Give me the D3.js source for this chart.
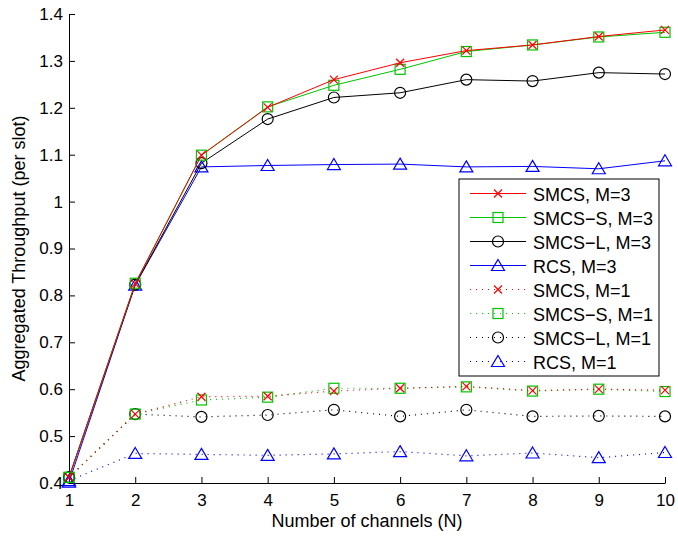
<!DOCTYPE html>
<html>
<head>
<meta charset="utf-8">
<script src="https://cdn.jsdelivr.net/npm/d3@7"></script>
<style>
  body { margin: 0; background: #fff; }
  text { font-family: "Liberation Sans", Arial, sans-serif; fill: #000; }
</style>
</head>
<body>
<svg id="chart"></svg>
<script>
const WIDTH = 678;
const HEIGHT = 538;
const MARGIN = {top: 14, right: 13, bottom: 55, left: 69};
const TICK_FONT = 17;
const LABEL_FONT = 18;

// channels on x axis
const channels = [1, 2, 3, 4, 5, 6, 7, 8, 9, 10];
const xTicks = [1, 2, 3, 4, 5, 6, 7, 8, 9, 10];
const yTicks = [0.4, 0.5, 0.6, 0.7, 0.8, 0.9, 1.0, 1.1, 1.2, 1.3, 1.4];

// M=3 series
const smcsM3  = [0.412, 0.825, 1.099, 1.201, 1.260, 1.296, 1.322, 1.334, 1.352, 1.366];
const smcsSM3 = [0.412, 0.826, 1.099, 1.202, 1.248, 1.282, 1.320, 1.334, 1.351, 1.361];
const smcsLM3 = [0.412, 0.823, 1.082, 1.176, 1.222, 1.232, 1.260, 1.257, 1.275, 1.272];
const rcsM3   = [0.402, 0.822, 1.074, 1.077, 1.079, 1.080, 1.074, 1.075, 1.070, 1.087];

// M=1 series
const smcsM1  = [0.412, 0.547, 0.584, 0.585, 0.596, 0.602, 0.606, 0.597, 0.600, 0.598];
const smcsSM1 = [0.412, 0.547, 0.577, 0.583, 0.602, 0.602, 0.605, 0.596, 0.600, 0.595];
const smcsLM1 = [0.412, 0.547, 0.541, 0.545, 0.556, 0.542, 0.556, 0.542, 0.543, 0.542];
const rcsM1   = [0.405, 0.463, 0.461, 0.459, 0.462, 0.467, 0.458, 0.464, 0.454, 0.465];

const RED = '#ff0000';
const GREEN = '#00c400';
const BLACK = '#000000';
const BLUE = '#0000ff';

const series = [
    {name: 'SMCS, M=3',   values: smcsM3,  color: RED,   marker: 'x',        dotted: false},
    {name: 'SMCS\u2212S, M=3', values: smcsSM3, color: GREEN, marker: 'square',   dotted: false},
    {name: 'SMCS\u2212L, M=3', values: smcsLM3, color: BLACK, marker: 'circle',   dotted: false},
    {name: 'RCS, M=3',    values: rcsM3,   color: BLUE,  marker: 'triangle', dotted: false},
    {name: 'SMCS, M=1',   values: smcsM1,  color: RED,   marker: 'x',        dotted: true},
    {name: 'SMCS\u2212S, M=1', values: smcsSM1, color: GREEN, marker: 'square',   dotted: true},
    {name: 'SMCS\u2212L, M=1', values: smcsLM1, color: BLACK, marker: 'circle',   dotted: true},
    {name: 'RCS, M=1',    values: rcsM1,   color: BLUE,  marker: 'triangle', dotted: true}
];

const innerW = WIDTH - MARGIN.left - MARGIN.right;
const innerH = HEIGHT - MARGIN.top - MARGIN.bottom;

const root = d3.select('#chart')
    .attr('width', WIDTH)
    .attr('height', HEIGHT);

const svg = root.append('g')
    .attr('transform', 'translate(' + MARGIN.left + ',' + MARGIN.top + ')');

const x = d3.scaleLinear().domain([1, 10]).range([0, innerW]);
const y = d3.scaleLinear().domain([0.4, 1.4]).range([innerH, 0]);

/* axes: ticks point inward like matlab */
const xAxis = svg.append('g')
    .attr('transform', 'translate(0,' + innerH + ')')
    .call(d3.axisBottom(x).tickValues(xTicks).tickSizeInner(-6).tickSizeOuter(0).tickPadding(11).tickFormat(d3.format('d')));

const yAxis = svg.append('g')
    .call(d3.axisLeft(y).tickValues(yTicks).tickSizeInner(-6).tickSizeOuter(0).tickPadding(6)
        .tickFormat(d => d === 1 ? '1' : d3.format('.1f')(d)));

[xAxis, yAxis].forEach(ax => {
    ax.select('.domain').attr('stroke', '#000').attr('stroke-width', 1);
    ax.selectAll('.tick line').attr('stroke', '#000');
    ax.selectAll('.tick text')
        .style('font-family', '"Liberation Sans", Arial, sans-serif')
        .style('font-size', TICK_FONT + 'px')
        .attr('fill', '#000');
});

/* axis titles */
svg.append('text')
    .attr('x', innerW / 2)
    .attr('y', innerH + 43.5)
    .attr('text-anchor', 'middle')
    .style('font-size', LABEL_FONT + 'px')
    .text('Number of channels (N)');

svg.append('text')
    .attr('transform', 'translate(' + (-44) + ',' + (innerH / 2) + ') rotate(-90)')
    .attr('text-anchor', 'middle')
    .style('font-size', LABEL_FONT + 'px')
    .text('Aggregated Throughput (per slot)');

function drawMarker(g, type, cx, cy, color) {
    if (type === 'x') {
        const s = 4;
        g.append('path')
            .attr('d', 'M' + (cx - s) + ',' + (cy - s) + 'L' + (cx + s) + ',' + (cy + s) +
                       'M' + (cx - s) + ',' + (cy + s) + 'L' + (cx + s) + ',' + (cy - s))
            .attr('stroke', color).attr('stroke-width', 1.2).attr('fill', 'none');
    } else if (type === 'square') {
        g.append('rect')
            .attr('x', cx - 5).attr('y', cy - 5).attr('width', 10).attr('height', 10)
            .attr('stroke', color).attr('stroke-width', 1.2).attr('fill', 'none');
    } else if (type === 'circle') {
        g.append('circle')
            .attr('cx', cx).attr('cy', cy).attr('r', 5.5)
            .attr('stroke', color).attr('stroke-width', 1.2).attr('fill', 'none');
    } else if (type === 'triangle') {
        g.append('path')
            .attr('d', 'M' + cx + ',' + (cy - 6) + 'L' + (cx + 6.5) + ',' + (cy + 5) + 'L' + (cx - 6.5) + ',' + (cy + 5) + 'Z')
            .attr('stroke', color).attr('stroke-width', 1.2).attr('fill', 'none');
    }
}

const line = d3.line()
    .x((d, i) => x(channels[i]))
    .y(d => y(d));

/* draw dotted series first, then solid */
series.slice().reverse().forEach(s => {
    svg.append('path')
        .datum(s.values)
        .attr('fill', 'none')
        .attr('stroke', s.color)
        .attr('stroke-width', s.dotted ? 1.2 : 1)
        .attr('stroke-dasharray', s.dotted ? '1,5' : null)
        .attr('d', line);
    const mg = svg.append('g');
    s.values.forEach((v, i) => drawMarker(mg, s.marker, x(channels[i]), y(v), s.color));
});

/* legend */
const LEG_X = 459 - MARGIN.left;
const LEG_Y = 179 - MARGIN.top;
const LEG_W = 200;
const LEG_H = 197;
const legend = svg.append('g').attr('transform', 'translate(' + LEG_X + ',' + LEG_Y + ')');

legend.append('rect')
    .attr('width', LEG_W).attr('height', LEG_H)
    .attr('fill', '#fff').attr('stroke', '#000').attr('stroke-width', 1);

series.forEach((s, i) => {
    const ly = 14.5 + i * 24;
    legend.append('line')
        .attr('x1', 11).attr('x2', 67).attr('y1', ly).attr('y2', ly)
        .attr('stroke', s.color).attr('stroke-width', s.dotted ? 1.2 : 1)
        .attr('stroke-dasharray', s.dotted ? '1,5' : null);
    drawMarker(legend, s.marker, 39, ly, s.color);
    legend.append('text')
        .attr('x', 74).attr('y', ly + 7)
        .style('font-size', LABEL_FONT + 'px')
        .text(s.name);
});
</script>
</body>
</html>
